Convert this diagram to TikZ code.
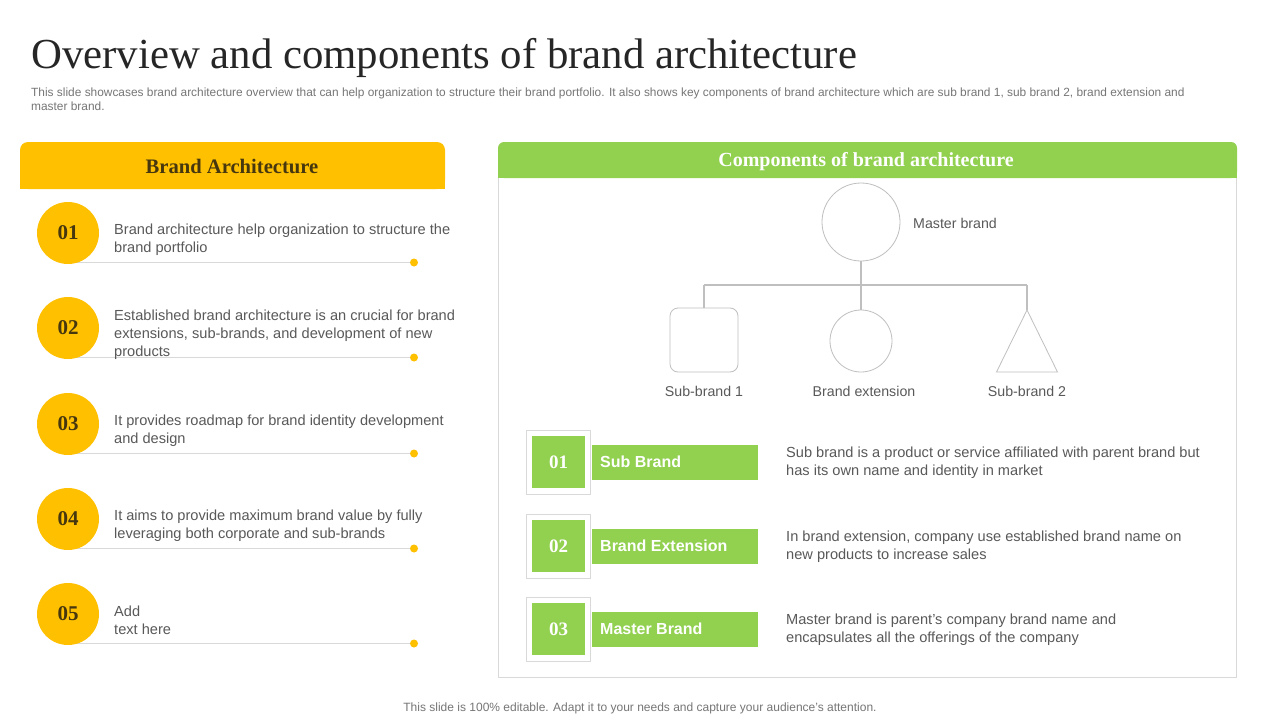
\documentclass[tikz,border=0pt]{standalone}
\usepackage{fontspec}
\setmainfont{Liberation Serif}
\setsansfont{Liberation Sans}
\usetikzlibrary{shapes.geometric}
\definecolor{yel}{RGB}{255,192,0}
\definecolor{grn}{RGB}{146,208,80}
\definecolor{txtgray}{RGB}{89,89,89}
\definecolor{numcol}{RGB}{70,55,15}
\definecolor{titlecol}{RGB}{38,38,38}
\definecolor{linecol}{RGB}{217,217,217}
\definecolor{treecol}{RGB}{191,191,191}
\definecolor{subcol}{RGB}{118,118,118}
\tikzset{
  numcirc/.style={circle, fill=yel, minimum size=62pt, inner sep=0pt,
    font=\rmfamily\bfseries\fontsize{21}{24}\selectfont, text=numcol},
  bodytxt/.style={anchor=west, align=left, inner sep=0pt, text=txtgray,
    font=\sffamily\fontsize{14.6}{18}\selectfont},
  ydot/.style={circle, fill=yel, minimum size=8pt, inner sep=0pt},
  uline/.style={draw=linecol, line width=1pt},
  treeline/.style={draw=treecol, line width=1.6pt},
  shapeline/.style={draw=treecol, line width=0.8pt},
  shlabel/.style={inner sep=0pt, text=txtgray, font=\sffamily\fontsize{14.2}{16}\selectfont},
  frame/.style={draw=linecol, fill=white, line width=0.8pt, minimum width=64pt, minimum height=64pt, inner sep=0pt},
  gsq/.style={fill=grn, minimum width=53pt, minimum height=52pt, inner sep=0pt, text=white,
    font=\rmfamily\bfseries\fontsize{19}{22}\selectfont},
  gbar/.style={fill=grn, minimum width=166pt, minimum height=35pt, inner sep=0pt},
  bartxt/.style={anchor=west, inner sep=0pt, text=white, font=\sffamily\bfseries\fontsize{16}{18}\selectfont},
}
\begin{document}
\begin{tikzpicture}[x=1pt,y=-1pt]
\useasboundingbox (0,0) rectangle (1280,720);
\fill[white] (0,0) rectangle (1280,720);

% title
\node[anchor=base west, inner sep=0pt, text=titlecol, font=\rmfamily\fontsize{42.8}{46}\selectfont] (title) at (31,68) {Overview and components of brand architecture};
\node[anchor=west, align=left, inner sep=0pt, text=subcol, font=\sffamily\fontsize{11.9}{14}\selectfont] (sub) at (31,99.5)
{This slide showcases brand architecture overview that can help organization to structure their brand portfolio. It also shows key components of brand architecture which are sub brand 1, sub brand 2, brand extension and\\ master brand.};

% left header
\fill[yel, rounded corners=8pt] (20,142) rectangle (445,189);
\fill[yel] (20,170) rectangle (445,189);
\node[inner sep=0pt, text=numcol, font=\rmfamily\bfseries\fontsize{20.6}{22}\selectfont] (bahead) at (232,166) {Brand Architecture};

% left items
\foreach \i/\y in {1/233,2/328,3/424,4/519,5/614}{
  \coordinate (ls\i) at (68,\y+29.5);
  \node[ydot] (d\i) at (414,\y+29.5) {};
  \draw[uline] (ls\i) -- (d\i);
  \node[numcirc] (c\i) at (68,\y) {0\i};
}
\node[bodytxt] (t1) at (114,239.5) {Brand architecture help organization to structure the\\brand portfolio};
\node[bodytxt] (t2) at (114,334.5) {Established brand architecture is an crucial for brand\\extensions, sub-brands, and development of new\\products};
\node[bodytxt] (t3) at (114,430.5) {It provides roadmap for brand identity development\\and design};
\node[bodytxt] (t4) at (114,525.5) {It aims to provide maximum brand value by fully\\leveraging both corporate and sub-brands};
\node[bodytxt] (t5) at (114,620.5) {Add\\text here};

% right panel
\draw[linecol, line width=0.8pt] (498,170) rectangle (1236,677);
\fill[grn, rounded corners=6pt] (498,142) rectangle (1237,178);
\fill[grn] (498,165) rectangle (1237,178);
\node[inner sep=0pt, text=white, font=\rmfamily\bfseries\fontsize{20}{22}\selectfont] (comphead) at (866,162) {Components of brand architecture};

% tree
\node[circle, shapeline, minimum size=78pt, inner sep=0pt] (mb) at (861,222) {};
\node[shlabel, anchor=west] (mbl) at (913,223) {Master brand};
\node[rectangle, rounded corners=8pt, shapeline, minimum width=68pt, minimum height=64pt, inner sep=0pt] (sq) at (704,340) {};
\node[circle, shapeline, minimum size=62pt, inner sep=0pt] (ce) at (861,341) {};
\coordinate (tri) at (1027,310);
\draw[shapeline, line join=miter] (tri) -- (1057.5,372) -- (996.5,372) -- cycle;
\coordinate (j) at (861,285);
\coordinate (jl) at (704,285);
\coordinate (jr) at (1027,285);
\draw[treeline] (mb.south) -- (j);
\draw[treeline] (jl) -- (jr);
\draw[treeline] (jl) -- (sq.north);
\draw[treeline] (j) -- (ce.north);
\draw[treeline] (jr) -- (tri);
\node[shlabel] (l1) at (704,391) {Sub-brand 1};
\node[shlabel] (l2) at (864,391) {Brand extension};
\node[shlabel] (l3) at (1027,391) {Sub-brand 2};

% component rows
\foreach \i/\y/\lab in {1/462/Sub Brand,2/546/Brand Extension,3/629/Master Brand}{
  \node[frame] (f\i) at (558,\y) {};
  \node[gsq] (g\i) at (558.5,\y) {0\i};
  \node[gbar] (b\i) at (675,\y) {};
  \node[bartxt] (bt\i) at (600,\y) {\lab};
}
\node[bodytxt] (r1) at (786,463) {Sub brand is a product or service affiliated with parent brand but\\has its own name and identity in market};
\node[bodytxt] (r2) at (786,547) {In brand extension, company use established brand name on\\new products to increase sales};
\node[bodytxt] (r3) at (786,630) {Master brand is parent's company brand name and\\encapsulates all the offerings of the company};

% footer
\node[inner sep=0pt, text=subcol, font=\sffamily\fontsize{12}{14}\selectfont] (foot) at (640,708) {This slide is 100\% editable. Adapt it to your needs and capture your audience's attention.};
\end{tikzpicture}
\end{document}
